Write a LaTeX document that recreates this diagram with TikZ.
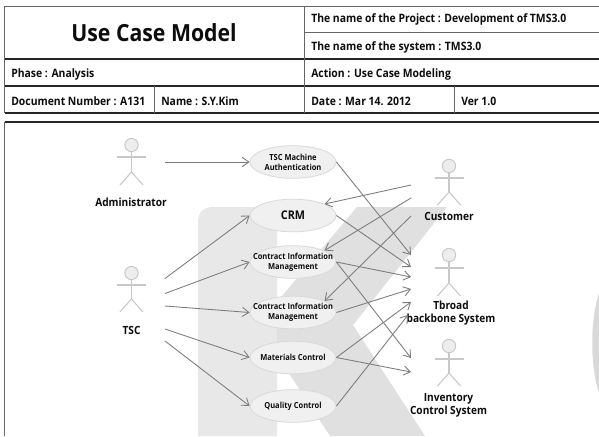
\documentclass[tikz,border=0pt]{standalone}
\usepackage{fontspec}
\setmainfont{Open Sans}[FakeStretch=0.9]
\usetikzlibrary{shapes.geometric,arrows.meta}
\definecolor{wm}{HTML}{E8E8E8}
\definecolor{wmd}{HTML}{E0E0E0}
\definecolor{conn}{HTML}{7C7C7C}
\definecolor{act}{HTML}{C8C8C8}
\newcommand{\actorfig}[5]{% name, x, head y, arm y, crotch y ; legs end 13 below crotch
  \node[head] (#1) at (#2,#3) {};
  \draw[limb] (#1.south) -- (#2,#5);
  \draw[limb] (#2-14.5,#4) -- (#2+14.5,#4);
  \draw[limb] (#2-11.5,#5+13) -- (#2,#5) -- (#2+11.5,#5+13);
}
\tikzset{
  x=0.75pt,y=-0.75pt,
  thin rule/.style={draw=black!60,line width=0.75pt},
  heavy rule/.style={draw=black!85,line width=1.2pt},
  cell/.style={anchor=west,inner sep=0pt,font=\fontsize{8.67}{10}\selectfont\bfseries,text=black!95},
  lbl/.style={align=center,inner sep=0pt,font=\fontsize{8.45}{9.75}\selectfont\bfseries,text=black!95},
  uc/.style={ellipse,draw=black!15,fill=black!6,line width=0.6pt,minimum width=64.5pt,minimum height=24.5pt,inner sep=0pt},
  uctext/.style={align=center,inner sep=0pt,font=\fontsize{6.26}{7.6}\selectfont\bfseries,text=black!95},
  head/.style={circle,draw=act,fill=black!7,line width=0.7pt,minimum size=10pt,inner sep=0pt},
  limb/.style={draw=act,line width=0.8pt},
  link/.style={draw=conn,line width=0.65pt,-{Straight Barb[length=5pt,width=7pt]}},
}
\begin{document}
\begin{tikzpicture}
\useasboundingbox (0,0) rectangle (599,436);
\fill[white] (0,0) rectangle (599,436);
% watermark
\fill[wm] (198,436) -- (198,223) .. controls (198,212) and (203,207) .. (214,207) -- (277,207) -- (277,436) -- cycle;
\fill[wmd] (357,207) -- (447,207) -- (353,325) -- (425,436) -- (330,436) -- (277,355) -- (277,302) -- cycle;
\fill[black!15] (599,293) .. controls (590,320) and (590,366) .. (599,393) -- cycle;
% header table
\draw[thin rule] (4.5,6) -- (599,6);
\draw[thin rule] (304,32) -- (599,32);
\draw[heavy rule] (4.5,59) -- (599,59);
\draw[heavy rule] (4.5,86) -- (599,86);
\draw[heavy rule] (4.5,113) -- (599,113);
\draw[thin rule] (4.5,6) -- (4.5,113);
\draw[thin rule] (304,6) -- (304,113);
\draw[thin rule] (154,86) -- (154,113);
\draw[thin rule] (454,86) -- (454,113);
\draw[heavy rule] (4.5,122) -- (599,122);
\draw[thin rule] (4.5,122) -- (4.5,436);
\node[inner sep=0pt,font=\fontsize{17.7}{19}\selectfont\bfseries,text=black!95] (title) at (154,33) {Use Case Model};
\node[cell] (project) at (311,19.5) {The name of the Project : Development of TMS3.0};
\node[cell] (system) at (311,47) {The name of the system : TMS3.0};
\node[cell] (phase) at (11,74) {Phase : Analysis};
\node[cell] (action) at (311,74) {Action : Use Case Modeling};
\node[cell] (docnum) at (11,101) {Document Number : A131};
\node[cell] (pname) at (161,101) {Name : S.Y.Kim};
\node[cell] (pdate) at (311,101) {Date : Mar 14. 2012};
\node[cell] (ver) at (461,101) {Ver 1.0};
% actors
\actorfig{admin}{131.5}{145}{157}{172}
\actorfig{tsc}{131.5}{273}{285}{299}
\actorfig{cust}{449}{166}{178}{192}
\actorfig{tbroad}{449}{255}{268}{283}
\actorfig{inv}{449}{346}{359}{373}
\node[lbl] (ladmin) at (131,202) {Administrator};
\node[lbl] (ltsc) at (131.5,330) {TSC};
\node[lbl] (lcust) at (449,216) {Customer};
\node[lbl] (ltbroad) at (451,313) {Tbroad\\backbone System};
\node[lbl] (linv) at (448.5,405.5) {Inventory\\Control System};
% use cases
\node[uc,label={[uctext]center:TSC Machine\\Authentication}] (uA) at (293,162) {};
\node[uc,label={[uctext,font=\fontsize{9}{10}\selectfont\bfseries]center:CRM}] (uB) at (293,215.5) {};
\node[uc,label={[uctext]center:Contract Information\\Management}] (uC) at (293,262) {};
\node[uc,label={[uctext]center:Contract Information\\Management}] (uD) at (293,312.5) {};
\node[uc,label={[uctext]center:Materials Control}] (uE) at (293,357.5) {};
\node[uc,label={[uctext]center:Quality Control}] (uF) at (293,406) {};
% free ends
\coordinate (a1) at (165,162);
\coordinate (t1) at (165,278.5);
\coordinate (t2) at (165,293.5);
\coordinate (t3) at (165,306);
\coordinate (t4) at (165,329);
\coordinate (t5) at (165,341);
\coordinate (c1) at (411,185);
\coordinate (c2) at (411,198);
\coordinate (c3) at (411,216);
\coordinate (b1) at (411,255);
\coordinate (b2) at (411,267);
\coordinate (b3) at (411,277);
\coordinate (b4) at (411,289);
\coordinate (b5) at (411,302);
\coordinate (b6) at (408,315);
\coordinate (i1) at (411,358);
\coordinate (i2) at (411,372);
% connectors
\draw[link] (a1) -- (uA.west);
\draw[link] (t1) -- (uB.west);
\draw[link] (t2) -- (uC.west);
\draw[link] (t3) -- (uD.west);
\draw[link] (t4) -- (uE.west);
\draw[link] (t5) -- (uF.west);
\draw[link] (c1) -- (uB.20);
\draw[link] (c2) -- (uC.20);
\draw[link] (c3) -- (uD.20);
\draw[link] (uA.east) -- (b1);
\draw[link] (uB.east) -- (b2);
\draw[link] (uC.east) -- (b3);
\draw[link] (uC.east) -- (i1);
\draw[link] (uD.east) -- (b4);
\draw[link] (uE.east) -- (b5);
\draw[link] (uE.east) -- (i2);
\draw[link] (uF.east) -- (b6);
\end{tikzpicture}
\end{document}
